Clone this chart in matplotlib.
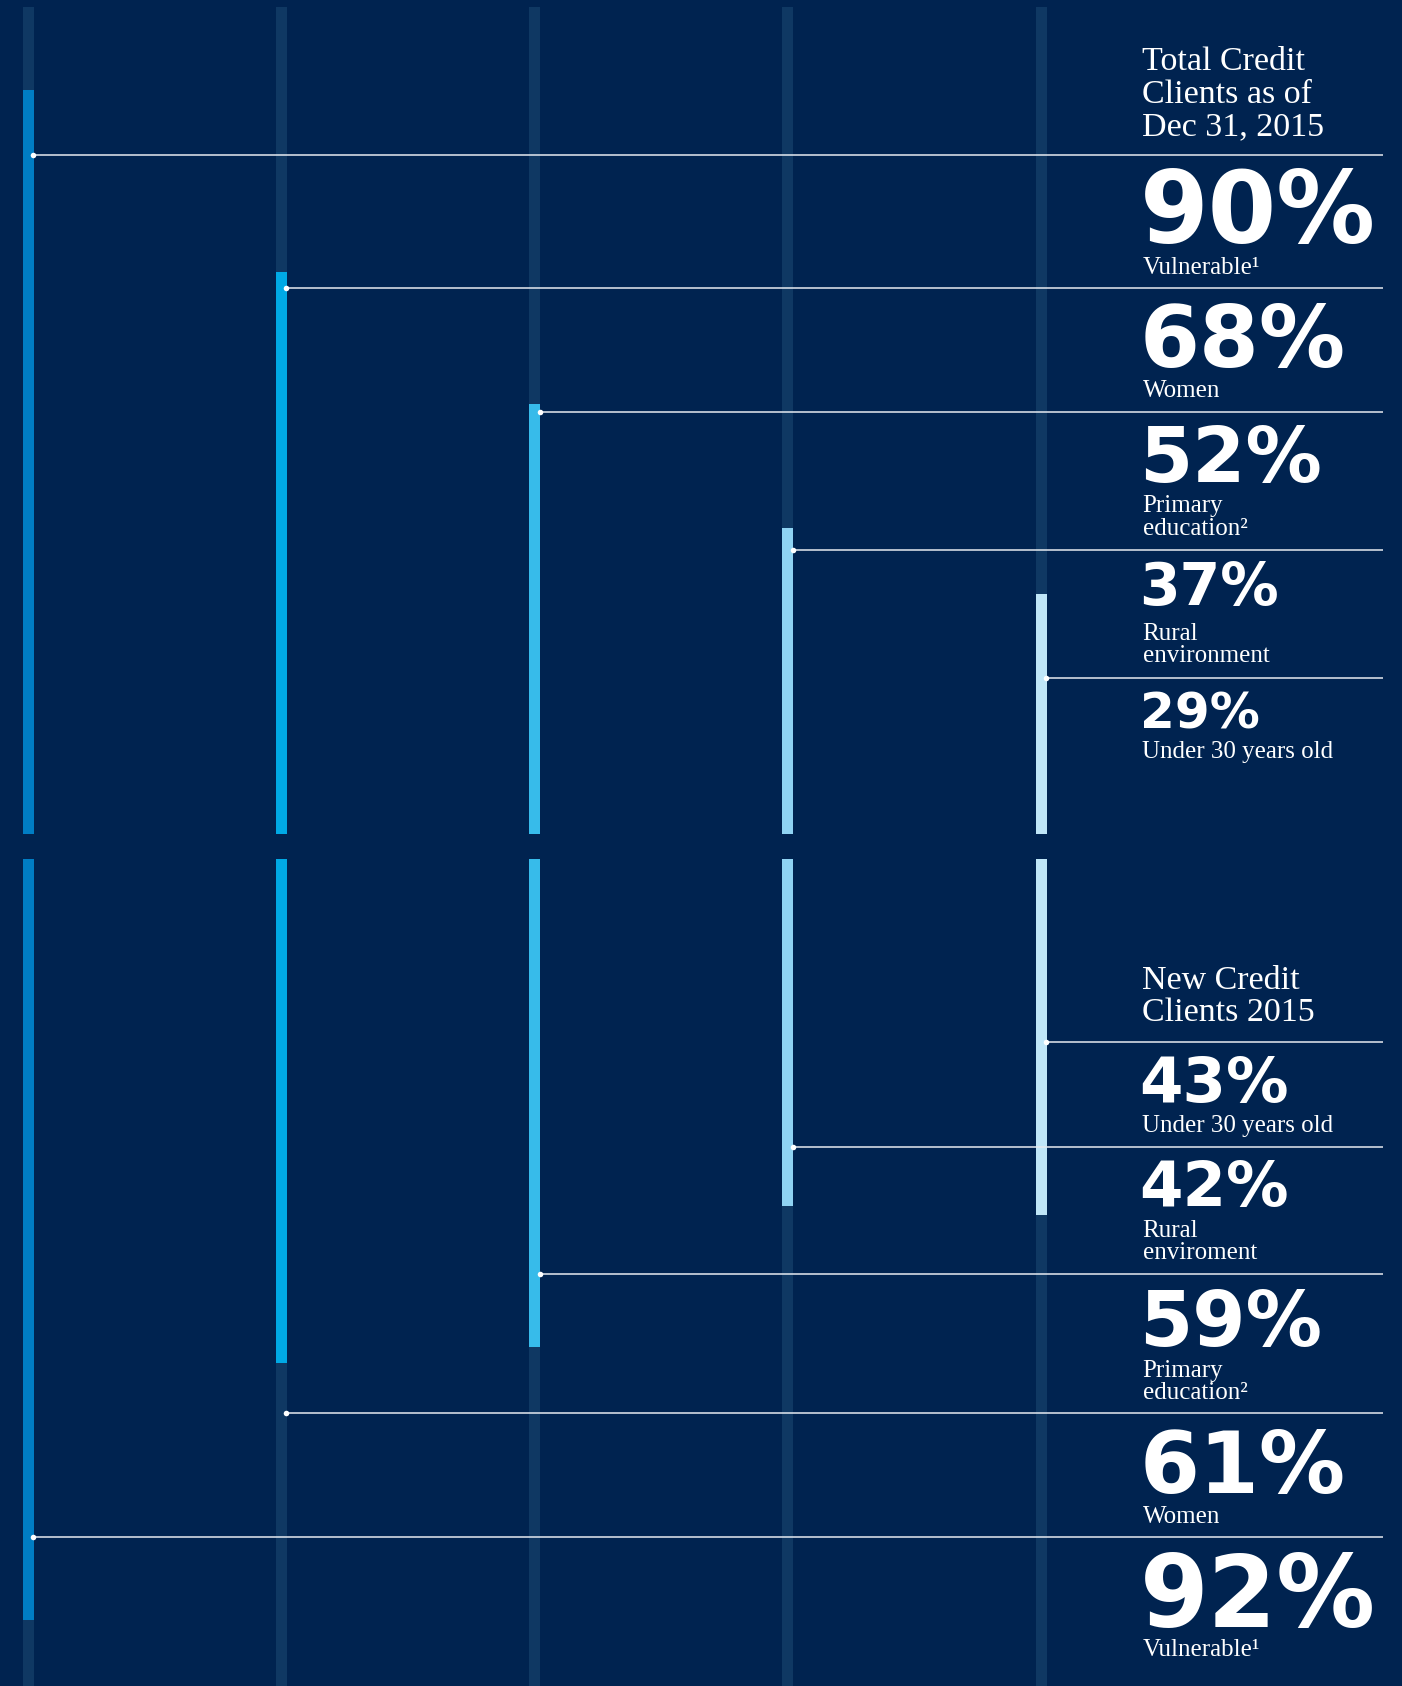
import matplotlib
matplotlib.use("Agg")
import matplotlib.pyplot as plt
import numpy as np

# ---------------- data ----------------
categories_total = ["Vulnerable¹", "Women", "Primary\neducation²", "Rural\nenvironment", "Under 30 years old"]
total_values = [90, 68, 52, 37, 29]          # Total credit clients as of Dec 31, 2015 (%)
categories_new = ["Vulnerable¹", "Women", "Primary\neducation²", "Rural\nenviroment", "Under 30 years old"]
new_values = [92, 61, 59, 42, 43]            # New credit clients 2015 (%)
title_total = "Total Credit\nClients as of\nDec 31, 2015"
title_new = "New Credit\nClients 2015"

# ---------------- style / layout ----------------
W, H = 1402, 1686
BG = "#002350"
TRACK = "#0f3863"
BAR_COLORS = ["#007dc4", "#00a9e5", "#37bbea", "#8fd3f3", "#bfe6f8"]
LINE = "#e6eaf0"
x_centers = [28 + 253.3 * i for i in range(5)]
bar_w = 11
panel_h = 827
top_base = 834      # pixel row of 0% for top panel
bot_base = 859      # pixel row of 0% for bottom panel
text_x = 1142.5
line_end = 1383

# per-bar layout: (connector y, number baseline, label baseline, number font size)
layout_top = [(154.7, 242.7, 274.0, 71), (288.0, 367.3, 397.3, 62), (411.7, 481.7, 512.3, 55),
              (549.5, 605.0, 640.0, 42), (678.0, 728.3, 758.3, 36)]
layout_new = [(1536.7, 1627.0, 1656.0, 71), (1413.0, 1493.3, 1522.7, 62), (1274.3, 1346.0, 1376.7, 55),
              (1146.7, 1206.0, 1236.7, 45), (1041.7, 1101.7, 1131.7, 45)]
title_top_base = 70.5
title_new_base = 989.3

NUM_FONT = dict(family=["DejaVu Sans"], fontweight="bold", color="white")
SERIF = ["Liberation Serif", "DejaVu Serif"]

fig = plt.figure(figsize=(W / 100, H / 100), dpi=100, facecolor=BG)

# top panel: bars grow upward
ax_t = fig.add_axes([0, (H - top_base) / H, 1, panel_h / H])
ax_t.set_xlim(0, W)
ax_t.set_ylim(0, 100)
ax_t.bar(x_centers, [100] * 5, width=bar_w, color=TRACK, zorder=1)
ax_t.bar(x_centers, total_values, width=bar_w, color=BAR_COLORS, zorder=2)
ax_t.axis("off")

# bottom panel: bars grow downward
ax_b = fig.add_axes([0, 0, 1, panel_h / H])
ax_b.set_xlim(0, W)
ax_b.set_ylim(100, 0)
ax_b.bar(x_centers, [100] * 5, width=bar_w, color=TRACK, zorder=1)
ax_b.bar(x_centers, new_values, width=bar_w, color=BAR_COLORS, zorder=2)
ax_b.axis("off")

# overlay in pixel coordinates for connectors and text
ov = fig.add_axes([0, 0, 1, 1])
ov.set_xlim(0, W)
ov.set_ylim(H, 0)
ov.axis("off")
ov.patch.set_alpha(0)


def multiline(x, y0, text, size, spacing, **kw):
    for k, line in enumerate(text.split("\n")):
        ov.text(x, y0 + k * spacing, line, fontsize=size, family=SERIF, color="white",
                va="baseline", ha="left", **kw)


multiline(text_x, title_top_base, title_total, 24.5, 32.3)
multiline(text_x, title_new_base, title_new, 24.5, 31.4)

for values, cats, lay in ((total_values, categories_total, layout_top),
                          (new_values, categories_new, layout_new)):
    for i, (v, cat, (ly, nb, lb, fs)) in enumerate(zip(values, cats, lay)):
        xs = x_centers[i] + bar_w / 2 - 0.5
        ov.plot([xs, line_end], [ly, ly], color=LINE, lw=1.1, solid_capstyle="butt", zorder=5)
        ov.plot([xs], [ly], "o", color="white", markersize=4, markeredgewidth=0, zorder=6)
        ov.text(text_x - 3, nb, f"{v}%", fontsize=fs, va="baseline", ha="left", **NUM_FONT)
        multiline(text_x, lb, cat, 18, 22.4)

fig.savefig("out.png", dpi=100, facecolor=BG)
